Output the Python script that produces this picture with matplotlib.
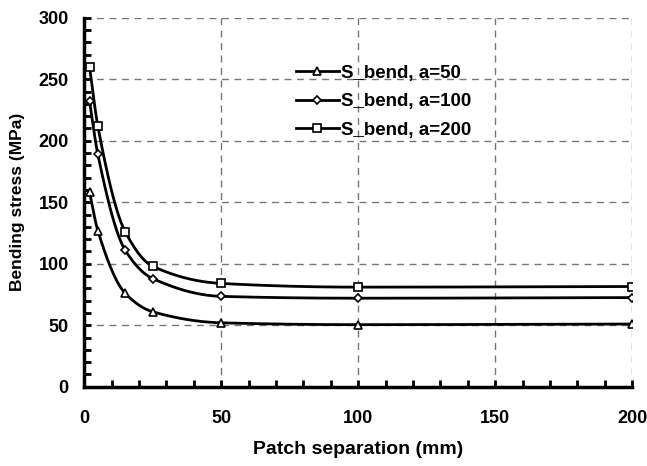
import numpy as np
import matplotlib
matplotlib.use('Agg')
from matplotlib import pyplot as plt
from matplotlib.ticker import MultipleLocator

plt.rcParams['font.family'] = ['Liberation Sans', 'DejaVu Sans']
plt.rcParams['font.weight'] = 'bold'

# data
sep = [2, 5, 15, 25, 50, 100, 200]
s_a50 = [158, 127, 76, 61, 52, 50.5, 51]
s_a100 = [232, 189, 111, 88, 73.5, 72, 72.5]
s_a200 = [260, 212, 126, 98, 84, 81, 81.5]
labels = ['S_bend, a=50', 'S_bend, a=100', 'S_bend, a=200']
markers = ['^', 'D', 's']
msizes = [6, 4.5, 6]


def pchip(x, y, xs):
    # monotone cubic, only used to draw the smoothed line between points
    x = np.asarray(x, float)
    y = np.asarray(y, float)
    h = np.diff(x)
    d = np.diff(y) / h
    m = np.zeros_like(y)
    for k in range(1, len(x) - 1):
        if d[k - 1] * d[k] > 0:
            w1 = 2 * h[k] + h[k - 1]
            w2 = h[k] + 2 * h[k - 1]
            m[k] = (w1 + w2) / (w1 / d[k - 1] + w2 / d[k])
    m[0] = d[0]
    m[-1] = d[-1]
    idx = np.clip(np.searchsorted(x, xs) - 1, 0, len(x) - 2)
    t = (xs - x[idx]) / h[idx]
    h00 = 2 * t**3 - 3 * t**2 + 1
    h10 = t**3 - 2 * t**2 + t
    h01 = -2 * t**3 + 3 * t**2
    h11 = t**3 - t**2
    return h00 * y[idx] + h10 * h[idx] * m[idx] + h01 * y[idx + 1] + h11 * h[idx] * m[idx + 1]


fig = plt.figure(figsize=(6.47, 4.66), dpi=100)
ax = fig.add_axes([0.13, 0.17, 0.847, 0.792])

xs = np.linspace(sep[0], sep[-1], 800)
for ys, mk, ms, lab in zip([s_a50, s_a100, s_a200], markers, msizes, labels):
    ax.plot(xs, pchip(sep, ys, xs), color='black', lw=2.0, zorder=3)
    ax.plot(sep, ys, ls='none', marker=mk, ms=ms, mfc='white', mec='black', mew=1.2, zorder=4)
    ax.plot([], [], color='black', lw=2.0, marker=mk, ms=ms, mfc='white', mec='black', mew=1.2, label=lab)

ax.set_xlim(0, 200)
ax.set_ylim(0, 300)
ax.xaxis.set_major_locator(MultipleLocator(50))
ax.xaxis.set_minor_locator(MultipleLocator(10))
ax.yaxis.set_major_locator(MultipleLocator(50))
ax.yaxis.set_minor_locator(MultipleLocator(10))
ax.tick_params(which='both', direction='in', length=5, width=2, labelsize=13, colors='black')
ax.tick_params(axis='x', pad=17)
ax.tick_params(axis='y', pad=11)
ax.grid(True, which='major', ls=(0, (5, 4)), color='#777777', lw=1)

for s in ['top', 'right']:
    ax.spines[s].set_visible(False)
for s in ['left', 'bottom']:
    ax.spines[s].set_linewidth(2.5)

ax.set_xlabel('Patch separation (mm)', fontsize=14, fontweight='bold', labelpad=10)
ax.set_ylabel('Bending stress (MPa)', fontsize=12.5, fontweight='bold', labelpad=10)

ax.legend(loc='upper left', bbox_to_anchor=(0.355, 0.918), frameon=False, fontsize=13.5,
          handlelength=2.3, handletextpad=0.15, labelspacing=0.6)

fig.savefig('out.png', dpi=100)
